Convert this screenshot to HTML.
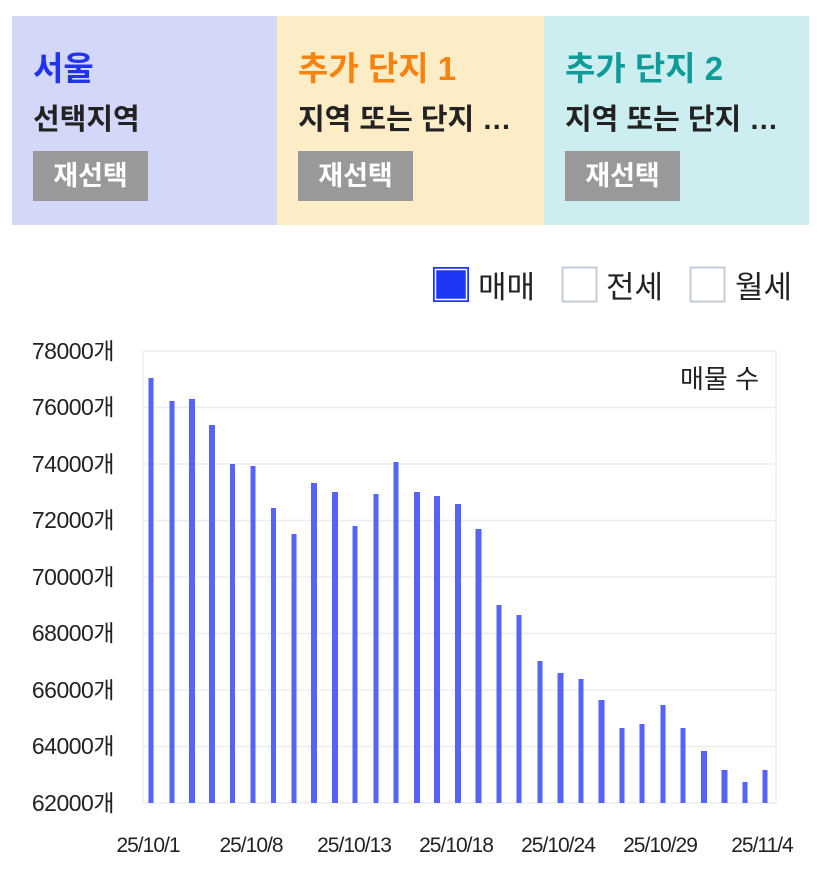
<!DOCTYPE html>
<html><head><meta charset="utf-8"><style>
body{margin:0;background:#fff;width:827px;height:885px;overflow:hidden;font-family:"Liberation Sans","Noto Sans CJK KR",sans-serif;}
.p{position:absolute;top:16px;height:209px;}
.t{position:absolute;left:21px;top:34px;font-size:33px;font-weight:bold;line-height:38px;white-space:nowrap;}
.s{position:absolute;left:21px;top:86px;font-size:29px;font-weight:bold;color:#222;line-height:36px;white-space:nowrap;}
.b{position:absolute;left:21px;top:135px;width:115px;height:50px;background:#999;color:#fff;font-size:27px;font-weight:bold;text-align:center;line-height:50px;}
</style></head><body>
<div class="p" style="left:12px;width:265px;background:#d3d8fb"><div class="t" style="color:#2233f0">서울</div><div class="s">선택지역</div><div class="b">재선택</div></div>
<div class="p" style="left:277px;width:267px;background:#fdedc7"><div class="t" style="color:#f7820f">추가 단지 1</div><div class="s">지역 또는 단지 …</div><div class="b">재선택</div></div>
<div class="p" style="left:544px;width:265px;background:#cdeef0"><div class="t" style="color:#0f9c99">추가 단지 2</div><div class="s">지역 또는 단지 …</div><div class="b">재선택</div></div>
<svg width="827" height="885" style="position:absolute;left:0;top:0" font-family="Liberation Sans, Noto Sans CJK KR, sans-serif">
<rect x="433.5" y="267.5" width="35" height="34" fill="#1e36f5" stroke="#1e36f5"/>
<rect x="435.5" y="269.5" width="31" height="30" fill="none" stroke="#fff" stroke-width="1.5"/>
<text x="478" y="298" font-size="31" fill="#222">매매</text>
<rect x="562.5" y="267.5" width="34" height="34" fill="#fff" stroke="#c5cbd3" stroke-width="2"/>
<text x="606" y="298" font-size="31" fill="#222">전세</text>
<rect x="690.5" y="267.5" width="34" height="34" fill="#fff" stroke="#c5cbd3" stroke-width="2"/>
<text x="735" y="298" font-size="31" fill="#222">월세</text>
<g stroke="#eeeeee" stroke-width="1.5">
<line x1="143" y1="351" x2="776" y2="351"/><line x1="143" y1="407.5" x2="776" y2="407.5"/><line x1="143" y1="464" x2="776" y2="464"/><line x1="143" y1="520.5" x2="776" y2="520.5"/><line x1="143" y1="577" x2="776" y2="577"/><line x1="143" y1="633.5" x2="776" y2="633.5"/><line x1="143" y1="690" x2="776" y2="690"/><line x1="143" y1="746.5" x2="776" y2="746.5"/><line x1="143" y1="803" x2="776" y2="803"/>
<line x1="143" y1="351" x2="143" y2="803"/><line x1="776" y1="351" x2="776" y2="803"/>
</g>
<g font-size="23" fill="#222" text-anchor="end" letter-spacing="-0.5">
<text x="114" y="359">78000개</text><text x="114" y="415">76000개</text><text x="114" y="472">74000개</text><text x="114" y="528">72000개</text><text x="114" y="585">70000개</text><text x="114" y="641">68000개</text><text x="114" y="698">66000개</text><text x="114" y="754">64000개</text><text x="114" y="811">62000개</text>
</g>
<text x="759" y="388" font-size="26" fill="#222" text-anchor="end">매물 수</text>
<g fill="#5563f7">
<rect x="148.5" y="378" width="5" height="425"/><rect x="169.5" y="401" width="5" height="402"/><rect x="189" y="399" width="6" height="404"/><rect x="209" y="425" width="6" height="378"/><rect x="230" y="464" width="5" height="339"/><rect x="250.5" y="466" width="5" height="337"/><rect x="271" y="508" width="5" height="295"/><rect x="291.5" y="534" width="5" height="269"/><rect x="311" y="483" width="6" height="320"/><rect x="332" y="492" width="6" height="311"/><rect x="352.5" y="526" width="5" height="277"/><rect x="373.5" y="494" width="5" height="309"/><rect x="393.5" y="462" width="5" height="341"/><rect x="414" y="492" width="6" height="311"/><rect x="434" y="496" width="6" height="307"/><rect x="455" y="504" width="6" height="299"/><rect x="475.5" y="529" width="6" height="274"/><rect x="496.5" y="605" width="5" height="198"/><rect x="516.5" y="615" width="5" height="188"/><rect x="537.5" y="661" width="5" height="142"/><rect x="557.5" y="673" width="6" height="130"/><rect x="578.5" y="679" width="5" height="124"/><rect x="598.5" y="700" width="6" height="103"/><rect x="619.5" y="728" width="5" height="75"/><rect x="639.5" y="724" width="5" height="79"/><rect x="660.5" y="705" width="5" height="98"/><rect x="680.5" y="728" width="5" height="75"/><rect x="701" y="751" width="6" height="52"/><rect x="721.5" y="770" width="6" height="33"/><rect x="742.5" y="782" width="5" height="21"/><rect x="762.5" y="770" width="5" height="33"/>
</g>
<g font-size="21" fill="#222" text-anchor="middle" letter-spacing="-1">
<text x="148" y="852">25/10/1</text><text x="251" y="852">25/10/8</text><text x="354" y="852">25/10/13</text><text x="456" y="852">25/10/18</text><text x="558" y="852">25/10/24</text><text x="660" y="852">25/10/29</text><text x="762" y="852">25/11/4</text>
</g>
</svg>
</body></html>
